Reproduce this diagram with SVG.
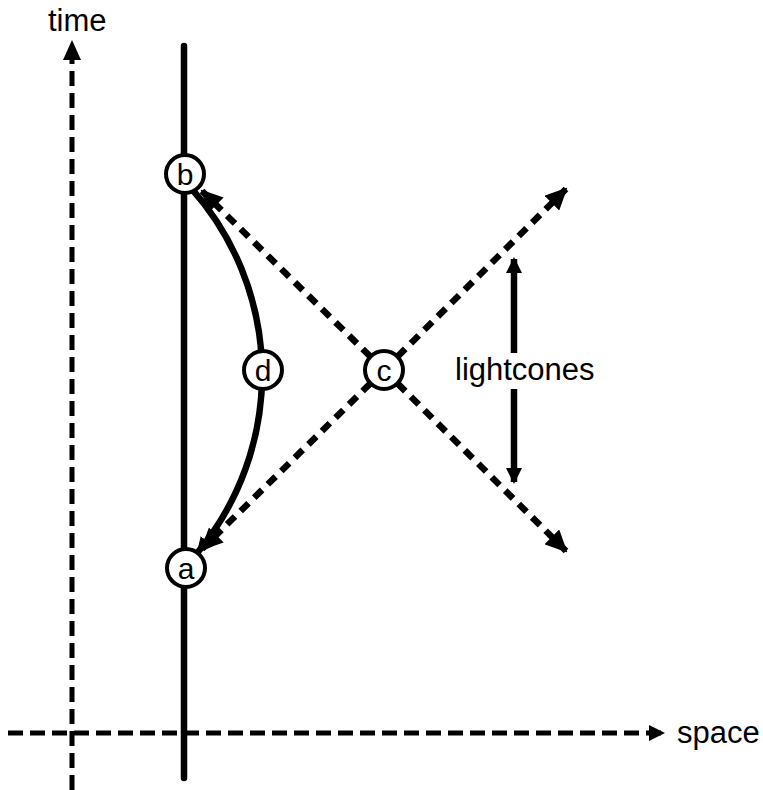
<svg xmlns="http://www.w3.org/2000/svg" width="763" height="790" viewBox="0 0 763 790">
<style>
.lbl{font-family:"Liberation Sans",Arial,sans-serif;font-size:31px;fill:#000}
.nl{font-family:"Liberation Sans",Arial,sans-serif;font-size:30px;fill:#000;text-anchor:middle}
.axis{stroke:#000;stroke-width:5;fill:none;stroke-dasharray:15 7}
.cone{stroke:#000;stroke-width:6.5;fill:none;stroke-dasharray:11 8}
.solid{stroke:#000;stroke-width:6.5;fill:none}
.node circle{fill:#fff;stroke:#000;stroke-width:4}
</style>
<defs>
<marker id="ah" markerUnits="userSpaceOnUse" markerWidth="20" markerHeight="18" refX="18" refY="9" orient="auto-start-reverse">
<path d="M0,0 L20,9 L0,18 Z" fill="#000"/>
</marker>
<marker id="ahb" markerUnits="userSpaceOnUse" markerWidth="22" markerHeight="21" refX="20" refY="10.5" orient="auto-start-reverse">
<path d="M0,0 L22,10.5 L0,21 Z" fill="#000"/>
</marker>
<marker id="ahs" markerUnits="userSpaceOnUse" markerWidth="16" markerHeight="16" refX="14" refY="8" orient="auto-start-reverse">
<path d="M0,0 L16,8 L0,16 Z" fill="#000"/>
</marker>
</defs>
<g id="connectors">
<line class="axis" x1="72" y1="790" x2="72" y2="42" marker-end="url(#ah)"/>
<line class="axis" x1="8" y1="733" x2="663" y2="733" marker-end="url(#ahs)"/>
<line class="solid" x1="184" y1="46" x2="184" y2="778" stroke-linecap="round"/>
<line class="cone" x1="384" y1="370" x2="202" y2="191" marker-end="url(#ahb)"/>
<line class="cone" x1="384" y1="370" x2="566" y2="189" marker-end="url(#ahb)"/>
<line class="cone" x1="384" y1="370" x2="566" y2="551" marker-end="url(#ahb)"/>
<line class="cone" x1="384" y1="370" x2="202" y2="549" marker-end="url(#ahb)"/>
<path class="solid" d="M191,188 A279,279 0 0 1 198,552" marker-end="url(#ahs)"/>
<line class="solid" x1="514" y1="353" x2="514" y2="259" stroke-width="4.5" marker-end="url(#ahs)"/>
<line class="solid" x1="514" y1="389" x2="514" y2="482" stroke-width="4.5" marker-end="url(#ahs)"/>
</g>
<g id="node-b" class="node"><circle cx="185" cy="174" r="19"/><text class="nl" x="185" y="185">b</text></g>
<g id="node-d" class="node"><circle cx="263" cy="370" r="19"/><text class="nl" x="263" y="381">d</text></g>
<g id="node-c" class="node"><circle cx="384" cy="370" r="19"/><text class="nl" x="384" y="381">c</text></g>
<g id="node-a" class="node"><circle cx="186" cy="568" r="19"/><text class="nl" x="186" y="579">a</text></g>
<text class="lbl" x="48" y="31">time</text>
<text class="lbl" x="677" y="743">space</text>
<text class="lbl" x="455" y="380">lightcones</text>
</svg>
